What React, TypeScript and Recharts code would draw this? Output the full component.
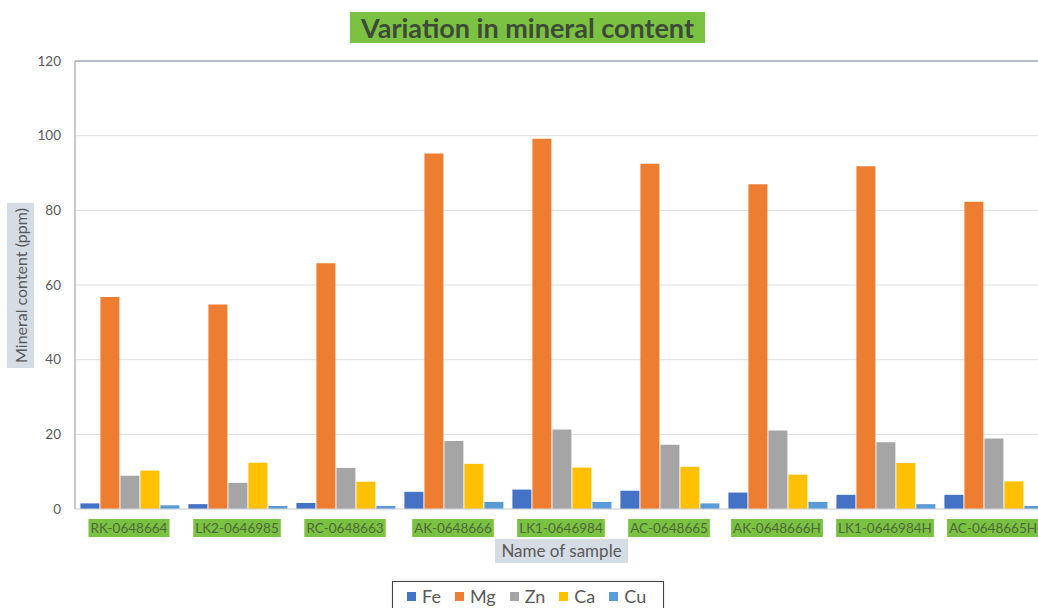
import React, { useLayoutEffect, useRef, useState } from 'react';
import { BarChart, Bar, XAxis, YAxis, CartesianGrid, ReferenceLine } from 'recharts';

// Sample names (x categories)
const samples = [
  'RK-0648664',
  'LK2-0646985',
  'RC-0648663',
  'AK-0648666',
  'LK1-0646984',
  'AC-0648665',
  'AK-0648666H',
  'LK1-0646984H',
  'AC-0648665H',
];

// Mineral content per sample, in ppm
const fe = [1.5, 1.3, 1.6, 4.6, 5.2, 4.9, 4.4, 3.8, 3.8];
const mg = [56.8, 54.8, 65.8, 95.2, 99.2, 92.5, 87.0, 91.8, 82.3];
const zn = [8.9, 7.0, 11.0, 18.2, 21.3, 17.2, 21.0, 17.9, 18.9];
const ca = [10.3, 12.4, 7.3, 12.1, 11.1, 11.3, 9.2, 12.3, 7.4];
const cu = [1.0, 0.8, 0.8, 1.9, 1.9, 1.5, 1.9, 1.3, 0.8];

const yTicks = [0, 20, 40, 60, 80, 100, 120];

const series = [
  { key: 'Fe', values: fe, color: '#4472c4' },
  { key: 'Mg', values: mg, color: '#ed7d31' },
  { key: 'Zn', values: zn, color: '#a5a5a5' },
  { key: 'Ca', values: ca, color: '#ffc000' },
  { key: 'Cu', values: cu, color: '#5b9bd5' },
];

const data = samples.map((name, i) => {
  const row: Record<string, string | number> = { name };
  series.forEach((s) => {
    row[s.key] = s.values[i];
  });
  return row;
});

const FONT = 'Lato, "Open Sans", sans-serif';
const GREEN = '#7cc242';

// Category tick with a highlighted green box behind the label
function SampleTick(props: any) {
  const { x, y, payload } = props;
  const ref = useRef<SVGTextElement>(null);
  const [w, setW] = useState(0);
  useLayoutEffect(() => {
    if (ref.current) setW(ref.current.getBBox().width);
  }, [payload.value]);
  return (
    <g transform={`translate(${x},${y})`}>
      {w > 0 && <rect x={-w / 2 - 2} y={2} width={w + 4} height={18} fill={GREEN} />}
      <text
        ref={ref}
        x={0}
        y={16}
        textAnchor="middle"
        fontFamily={FONT}
        fontSize={13.5}
        fill="#4b6a3c"
      >
        {payload.value}
      </text>
    </g>
  );
}

export default function App() {
  return (
    <div
      style={{
        position: 'fixed',
        left: 0,
        top: 0,
        width: 1038,
        height: 608,
        overflow: 'hidden',
        background: '#ffffff',
        fontFamily: FONT,
      }}
    >
      {/* Title */}
      <div
        style={{
          position: 'absolute',
          left: 350,
          top: 12,
          width: 355,
          height: 31,
          background: GREEN,
          color: '#3d4a38',
          fontWeight: 700,
          fontSize: 27,
          lineHeight: '31px',
          textAlign: 'center',
          whiteSpace: 'nowrap',
        }}
      >
        Variation in mineral content
      </div>

      <BarChart
        width={1060}
        height={608}
        data={data}
        margin={{ top: 61, right: 13, left: 0, bottom: 69 }}
        barCategoryGap="5%"
        barGap={1}
        style={{ position: 'absolute', left: 0, top: 0 }}
      >
        <CartesianGrid vertical={false} stroke="#dedede" />
        <XAxis
          dataKey="name"
          height={30}
          tickLine={false}
          axisLine={{ stroke: '#d3d8de' }}
          tick={<SampleTick />}
          interval={0}
        />
        <YAxis
          width={75}
          domain={[0, 120]}
          ticks={yTicks}
          tickLine={false}
          tickSize={6}
          tickMargin={8}
          axisLine={{ stroke: '#a3adb8', strokeWidth: 1.3 }}
          tick={{ fill: '#595959', fontSize: 13.5, fontFamily: FONT }}
        />
        <ReferenceLine y={120} stroke="#a3adb8" strokeWidth={1.5} />
        {series.map((s) => (
          <Bar key={s.key} dataKey={s.key} fill={s.color} isAnimationActive={false} />
        ))}
      </BarChart>

      {/* Y axis title */}
      <div
        style={{
          position: 'absolute',
          left: 7,
          top: 203,
          width: 27,
          height: 165,
          background: '#d6dce4',
          display: 'flex',
          alignItems: 'center',
          justifyContent: 'center',
        }}
      >
        <div
          style={{
            transform: 'rotate(-90deg)',
            whiteSpace: 'nowrap',
            fontSize: 16,
            color: '#595959',
          }}
        >
          Mineral content (ppm)
        </div>
      </div>

      {/* X axis title */}
      <div
        style={{
          position: 'absolute',
          left: 495,
          top: 539,
          width: 133,
          height: 24,
          background: '#d6dce4',
          color: '#595959',
          fontSize: 17,
          lineHeight: '24px',
          textAlign: 'center',
          whiteSpace: 'nowrap',
        }}
      >
        Name of sample
      </div>

      {/* Legend */}
      <div
        style={{
          position: 'absolute',
          left: 392,
          top: 581,
          width: 272,
          height: 34,
          border: '1px solid #404040',
          boxShadow: '0 0 3px rgba(0,0,0,0.15)',
          background: '#ffffff',
          display: 'flex',
          alignItems: 'flex-start',
          paddingTop: 4,
          paddingLeft: 14,
          boxSizing: 'border-box',
          color: '#595959',
          fontSize: 18,
          lineHeight: '20px',
        }}
      >
        {series.map((s) => (
          <div key={s.key} style={{ display: 'flex', alignItems: 'center', marginRight: 14 }}>
            <span
              style={{
                display: 'inline-block',
                width: 9,
                height: 9,
                background: s.color,
                marginRight: 6,
              }}
            />
            <span>{s.key}</span>
          </div>
        ))}
      </div>
    </div>
  );
}
